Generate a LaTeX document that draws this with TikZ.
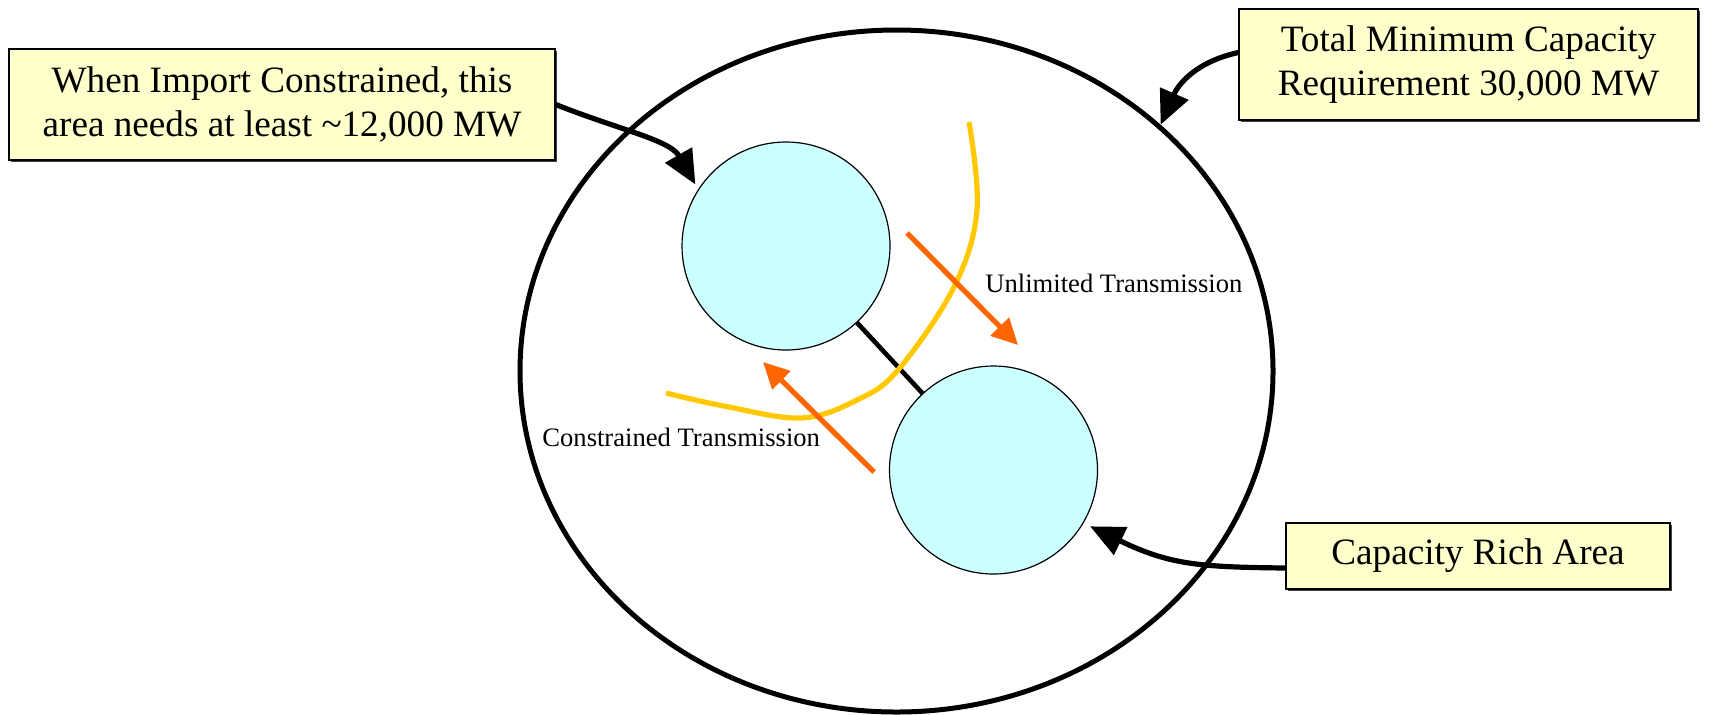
\documentclass[tikz,border=0pt]{standalone}
\usepackage{fontspec}
\setmainfont{Liberation Serif}
\usetikzlibrary{arrows.meta,shapes.geometric,shadows}
\definecolor{notefill}{HTML}{FFFFCC}
\definecolor{areafill}{HTML}{CCFFFF}
\definecolor{flow}{HTML}{FF6600}
\definecolor{cut}{HTML}{FFC800}
\tikzset{
  note/.style={draw=black, line width=0.7pt, fill=notefill, align=center,
    inner sep=0pt, font=\fontsize{18.6pt}{22pt}\selectfont,
    drop shadow={shadow xshift=1pt, shadow yshift=-1pt, fill=black!75, opacity=1}},
  area/.style={circle, draw=black, line width=0.6pt, fill=areafill, minimum size=104pt, inner sep=0pt},
  pointer/.style={line width=2.6pt, -{Triangle[length=17pt,width=15pt]}},
  flowarrow/.style={draw=flow, line width=2.6pt, -{Triangle[length=13pt,width=12.5pt]}},
  tag/.style={font=\fontsize{13.3pt}{16pt}\selectfont, inner sep=0pt, anchor=west}
}
\begin{document}
\begin{tikzpicture}[x=0.5pt, y=-0.5pt]
\useasboundingbox (0,0) rectangle (1732,714);

% region boundary
\node[ellipse, draw=black, line width=2.5pt, minimum width=376.5pt, minimum height=341pt, inner sep=0pt] (region) at (896.5,371) {};

% link between the two areas, drawn under them
\coordinate (c1c) at (786,246);
\coordinate (c2c) at (993.5,470);
\draw[line width=2.3pt] (c1c) -- (c2c);

\node[area] (c1) at (c1c) {};
\node[area] (c2) at (c2c) {};

% interface cut
\draw[cut, line width=2.6pt] plot[smooth, tension=0.6] coordinates
  {(969,122) (977,210) (954,287) (898,370) (857,400) (801,418) (724,406) (666,393)};

% power flows
\coordinate (u0) at (907,233);
\coordinate (u1) at (1018,345);
\coordinate (k0) at (874,472);
\coordinate (k1) at (763,362);
\draw[flowarrow] (u0) -- (u1);
\draw[flowarrow] (k0) -- (k1);

\node[tag] (ulim) at (985,283) {Unlimited Transmission};
\node[tag] (cons) at (542,437) {Constrained Transmission};

% call-outs
\node[note, minimum width=273pt, minimum height=55.5pt] (imp) at (282,104.5)
  {When Import Constrained, this\\area needs at least \textasciitilde12,000 MW};
\node[note, minimum width=229.5pt, minimum height=55.5pt] (tot) at (1468.5,64.5)
  {Total Minimum Capacity\\Requirement 30,000 MW};
\node[note, minimum width=192pt, minimum height=33pt] (rich) at (1478,556)
  {Capacity Rich Area};

\draw[pointer] (imp.east) .. controls (620,130) and (670,140) .. ([shift={(-3pt,0)}]c1.144);
\draw[pointer] ([yshift=6pt]tot.west) .. controls (1195,62) and (1178,85) .. (region.43);
\draw[pointer] ([yshift=-6pt]rich.west) .. controls (1200,567) and (1170,565) .. ([shift={(3pt,-2pt)}]c2.-30);
\end{tikzpicture}
\end{document}
